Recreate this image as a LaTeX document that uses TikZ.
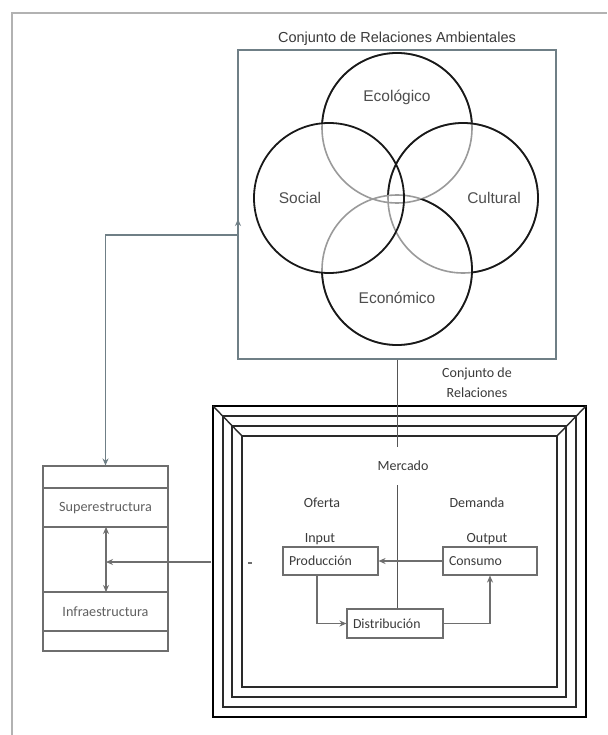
\documentclass[tikz,border=0pt]{standalone}
\usepackage{fontspec}
\setmainfont{Liberation Sans}
\newfontfamily\calfont{Carlito}
\usetikzlibrary{arrows.meta}
\definecolor{txt}{HTML}{3A3A3A}
\definecolor{boxline}{HTML}{6E6E6E}
\definecolor{conn}{HTML}{6F7F86}
\definecolor{frameline}{HTML}{2A2A2A}
\definecolor{circgray}{HTML}{9A9A9A}
\tikzset{
  lbl/.style={text=txt!90, font=\fontsize{15.5}{17}\selectfont, inner sep=0pt},
  smalllbl/.style={text=txt, font=\calfont\fontsize{14}{16}\selectfont, inner sep=0pt},
  procbox/.style={draw=boxline, line width=1.1pt, text=txt, font=\calfont\fontsize{13.8}{15}\selectfont,
     minimum height=28pt, align=left, inner xsep=6pt},
  connline/.style={draw=conn, line width=1.1pt},
  tip/.style={-{Stealth[length=7pt,width=6pt]}},
  bothtip/.style={{Stealth[length=7pt,width=6pt]}-{Stealth[length=7pt,width=6pt]}},
  circblack/.style={draw=black!90, line width=1.8pt},
  circgrey/.style={draw=circgray, line width=1.6pt},
  frm/.style={draw=frameline, line width=1.4pt},
}
\begin{document}
\begin{tikzpicture}[x=1pt,y=-1pt]
\useasboundingbox (0,0) rectangle (607,735);
\fill[white] (0,0) rectangle (607,735);
% page frame
\draw[gray!60, line width=2pt] (12,735) -- (12,13) -- (607,13);

% top box
\node[draw=conn, line width=1.2pt, minimum width=318pt, minimum height=309pt, inner sep=0pt] (amb) at (397,204.5) {};
\node[smalllbl, font=\fontsize{14.5}{16}\selectfont] (ambtitle) at (397,39) {Conjunto de Relaciones Ambientales};

% circles
\coordinate (E) at (397,128);
\coordinate (S) at (329,198);
\coordinate (C) at (463,198);
\coordinate (N) at (397,270);
\def\R{75pt}
% Ecologico
\draw[circgrey] (E) circle[radius=\R];
\begin{scope}[even odd rule]
  \clip (0,0) rectangle (607,735) (S) circle[radius=\R];
  \clip (0,0) rectangle (607,735) (C) circle[radius=\R];
  \draw[circblack] (E) circle[radius=\R];
\end{scope}
% Cultural
\draw[circgrey] (C) circle[radius=\R];
\begin{scope}[even odd rule]
  \clip (0,0) rectangle (607,735) (N) circle[radius=\R];
  \draw[circblack] (C) circle[radius=\R];
\end{scope}
% Economico
\draw[circgrey] (N) circle[radius=\R];
\begin{scope}[even odd rule]
  \clip (0,0) rectangle (607,735) (S) circle[radius=\R];
  \clip (0,0) rectangle (607,735) (E) circle[radius=\R];
  \draw[circblack] (N) circle[radius=\R];
\end{scope}
% Social
\draw[circblack] (S) circle[radius=\R];

\node[lbl] (ecol) at (397,97) {Ecológico};
\node[lbl] (soc) at (300,198) {Social};
\node[lbl] (cult) at (494,198) {Cultural};
\node[lbl] (econ) at (397,298) {Económico};

% big frame
\draw[frm, line width=2pt, draw=black] (213,406) rectangle (586,717);
\draw[frm] (223,416) rectangle (576,707);
\draw[frm] (232,426) rectangle (566,697);
\draw[frm] (242,436) rectangle (557,687);
\draw[frm] (213,406) -- (242,436);
\draw[frm] (586,406) -- (557,436);

\node[smalllbl, align=center, font=\calfont\fontsize{14}{20}\selectfont] (conjrel) at (477,383) {Conjunto de\\Relaciones};

% market
\node[smalllbl, minimum height=38pt] (merc) at (403,466) {Mercado};
\node[smalllbl] (ofer) at (322,503) {Oferta};
\node[smalllbl] (dem) at (477,503) {Demanda};
\node[smalllbl] (inp) at (320,539) {Input};
\node[smalllbl] (outp) at (487,539) {Output};

\node[procbox, text width=83pt] (prod) at (330.5,561) {Producción};
\node[procbox, text width=82pt] (cons) at (490,561) {Consumo};
\node[procbox, text width=84pt, minimum height=29pt] (dist) at (395,623.5) {Distribución};

\draw[connline, draw=frameline!80, line width=1pt] (amb.south) -- (amb.south |- merc.north);
\draw[connline, draw=frameline!80, line width=1pt] (amb.south |- merc.south) -- (dist.north -| amb.south);
\draw[connline, draw=boxline, tip] (cons.west) -- (prod.east);
\draw[connline, draw=boxline, tip] ([xshift=-13.5pt]prod.south) |- (dist.west);
\draw[connline, draw=boxline, tip] (dist.east) -| (cons.south);

% left stack
\node[draw=boxline, line width=1.1pt, minimum width=125pt, minimum height=185pt, inner sep=0pt] (stack) at (105.5,558.5) {};
\draw[boxline, line width=1.1pt] (stack.west |- 0,488) -- (stack.east |- 0,488);
\draw[boxline, line width=1.1pt] (stack.west |- 0,527) -- (stack.east |- 0,527);
\draw[boxline, line width=1.1pt] (stack.west |- 0,592) -- (stack.east |- 0,592);
\draw[boxline, line width=1.1pt] (stack.west |- 0,631) -- (stack.east |- 0,631);
\node[smalllbl, text=txt!80, font=\calfont\fontsize{14.2}{15}\selectfont] (sup) at (105.5,508) {Superestructura};
\node[smalllbl, text=txt!80, font=\calfont\fontsize{14.2}{15}\selectfont] (inf) at (105.5,612) {Infraestructura};
\coordinate (supb) at (106,527);
\coordinate (infT) at (106,592);
\coordinate (midp) at (106,562);
\coordinate (fromframe) at (211,562);
\draw[connline, draw=boxline, bothtip] (supb) -- (infT);
\draw[connline, draw=boxline, tip] (fromframe) -- (midp);
\draw[boxline, line width=1.8pt] (199,562) -- (210,562);
\draw[boxline, line width=1.4pt] (248,563) -- (252,563);

% connector stack -> top box
\coordinate (ambin) at (238,219);
\draw[connline, bothtip] (stack.north) |- ([yshift=-16pt]ambin) -- (ambin);
\end{tikzpicture}
\end{document}
